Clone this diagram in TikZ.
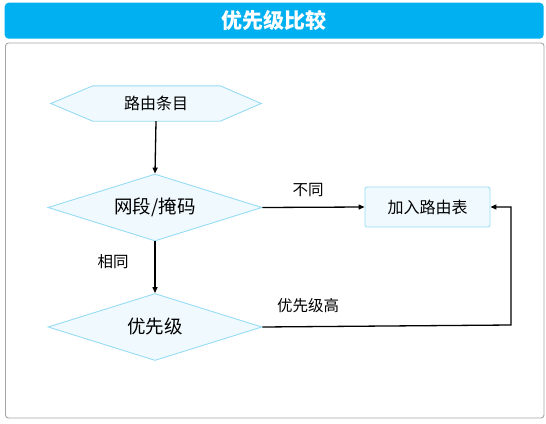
\documentclass[tikz,border=0pt]{standalone}
\usepackage{fontspec}
\setmainfont{Noto Sans CJK SC}
\usetikzlibrary{shapes.geometric,arrows.meta}
\definecolor{titleblue}{RGB}{0,176,240}
\definecolor{shapefill}{RGB}{240,250,254}
\definecolor{shapeline}{RGB}{150,220,245}
\definecolor{framegray}{RGB}{165,165,165}
\tikzset{
  flowline/.style={draw=black, line width=1.3pt, -{Triangle[length=6pt,width=5pt]}},
  decision/.style={diamond, aspect=3.2, draw=shapeline, fill=shapefill, line width=0.9pt, minimum width=214pt, minimum height=67pt, inner sep=0pt, font=\fontsize{18.5}{20}\selectfont},
  procbox/.style={rectangle, draw=shapeline, fill=shapefill, line width=0.9pt, rounded corners=1.5pt, minimum width=125pt, minimum height=40pt, inner sep=0pt, font=\fontsize{16}{18}\selectfont},
  edgelabel/.style={font=\fontsize{15.5}{17}\selectfont, inner sep=0pt},
}
\begin{document}
\begin{tikzpicture}[x=1pt,y=1pt]
\useasboundingbox (0,0) rectangle (546,-423);
\fill[white] (0,0) rectangle (546,-423);
% title bar
\node[fill=titleblue, rounded corners=4pt, minimum width=539pt, minimum height=36pt, inner sep=0pt, anchor=north west, text=white, font=\fontsize{21}{23}\selectfont\bfseries] (title) at (4.5,-2.5) {优先级比较};
% frame
\draw[framegray, line width=0.9pt, rounded corners=3pt] (5.5,-43) rectangle (544,-418);
% hexagon start
\node[minimum width=210pt, minimum height=35pt, inner sep=0pt] (start) at (156,-103.5) {};
\draw[draw=shapeline, fill=shapefill, line width=0.9pt]
  (start.west) -- ([xshift=42pt]start.north west) -- ([xshift=-41pt]start.north east)
  -- (start.east) -- ([xshift=-41pt]start.south east) -- ([xshift=42pt]start.south west) -- cycle;
\node[font=\fontsize{16}{18}\selectfont, inner sep=0pt] (starttext) at (start.center) {路由条目};
% decisions
\node[decision] (mask) at (155,-207.5) {网段/掩码};
\node[decision] (prio) at (155,-327) {优先级};
% box
\node[procbox] (add) at (427.5,-207) {加入路由表};
% connectors
\draw[flowline] (start.south) -- (mask.north);
\draw[flowline] (mask.south) -- (prio.north);
\draw[flowline] (mask.east) -- (add.west);
\coordinate (corner1) at (511,-325);
\coordinate (corner2) at (511,-207);
\draw[flowline] (prio.east) -- (corner1) -- (corner2) -- (add.east);
% labels
\node[edgelabel] (lbl1) at (308,-190) {不同};
\node[edgelabel] (lbl2) at (113,-262) {相同};
\node[edgelabel] (lbl3) at (308,-306) {优先级高};
\end{tikzpicture}
\end{document}
